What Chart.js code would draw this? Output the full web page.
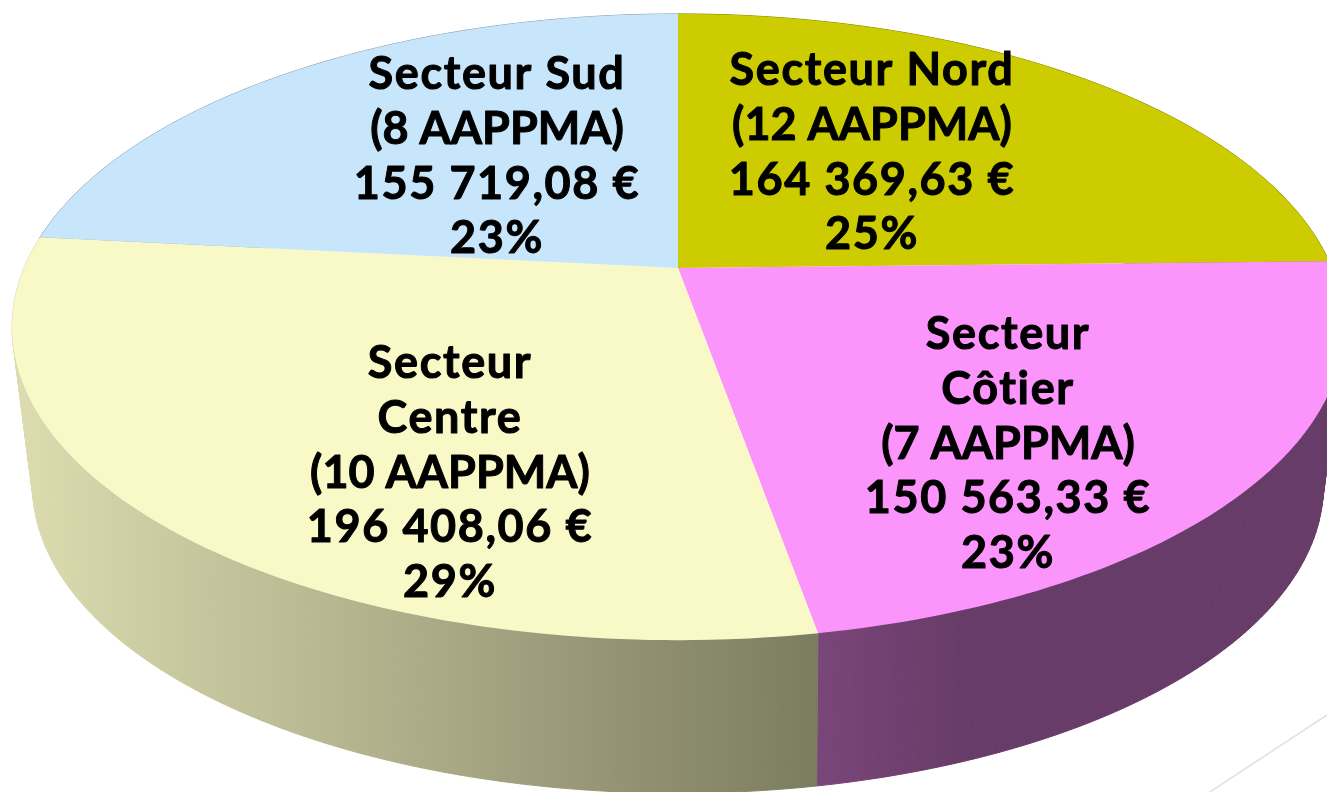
<!DOCTYPE html>
<html>
<head>
<meta charset="utf-8">
<title>Secteurs AAPPMA</title>
<script src="https://cdn.jsdelivr.net/npm/chart.js@4"></script>
<style>
  html, body { margin: 0; padding: 0; background: #fff; overflow: hidden; }
  canvas { display: block; }
</style>
</head>
<body>
<canvas id="myChart" width="1327" height="792"></canvas>
<script>
const categories = ["Secteur Nord", "Secteur Côtier", "Secteur Centre", "Secteur Sud"]
const amounts = [164369.63, 150563.33, 196408.06, 155719.08]
const topColors = ["#cccc00", "#fb94fb", "#f9f9c8", "#c8e6fb"]
const sideColors = [
  ["#8a8a00", "#8a8a00"],
  ["#7a467a", "#683c68"],
  ["#dcdcb0", "#7c7c60"],
  ["#8aa0b0", "#8aa0b0"]
]
const labelLines = [
  ["Secteur Nord", "(12 AAPPMA)", "164 369,63 €", "25%"],
  ["Secteur", "Côtier", "(7 AAPPMA)", "150 563,33 €", "23%"],
  ["Secteur", "Centre", "(10 AAPPMA)", "196 408,06 €", "29%"],
  ["Secteur Sud", "(8 AAPPMA)", "155 719,08 €", "23%"]
]

// where the text sits, and how the flat pie is tilted
const labelX = [872, 1008, 450, 497]
const labelY = [85, 349, 378, 89]
const lineGap = 54.8
const tilt = { cx: 678, cy: 268, a: 654, b: 302, k: 0.1885 }
const base = { cx: 678, cy: 421, a: 631, b: 294, k: 0.21 }

function project(angle, ring) {
  let u = Math.cos(angle)
  let v = Math.sin(angle)
  let w = 1 - ring.k * v
  return {
    x: ring.cx + ring.a * u / w,
    y: ring.cy + ring.b * v / w
  }
}

const pie3d = {
  id: "pie3d",
  beforeDatasetsDraw(chart) {
    let ctx = chart.ctx
    let arcs = chart.getDatasetMeta(0).data
    let step = Math.PI / 180

    // the rim first, the top face goes over it
    arcs.forEach(function(arc, i) {
      let grad = ctx.createLinearGradient(i == 1 ? 815 : 20, 0, i == 1 ? 960 : 815, 0)
      grad.addColorStop(0, sideColors[i][0])
      grad.addColorStop(1, sideColors[i][1])
      ctx.fillStyle = grad
      ctx.strokeStyle = grad
      ctx.lineWidth = 1
      for (let a = arc.startAngle; a < arc.endAngle; a += step) {
        let b = Math.min(a + step, arc.endAngle)
        let p1 = project(a, tilt)
        let p2 = project(b, tilt)
        let p3 = project(b, base)
        let p4 = project(a, base)
        ctx.beginPath()
        ctx.moveTo(p1.x, p1.y)
        ctx.lineTo(p2.x, p2.y)
        ctx.lineTo(p3.x, p3.y)
        ctx.lineTo(p4.x, p4.y)
        ctx.closePath()
        ctx.fill()
        ctx.stroke()
      }
    })

    arcs.forEach(function(arc, i) {
      ctx.fillStyle = topColors[i]
      ctx.beginPath()
      ctx.moveTo(tilt.cx, tilt.cy)
      for (let a = arc.startAngle; a < arc.endAngle; a += step) {
        let p = project(a, tilt)
        ctx.lineTo(p.x, p.y)
      }
      let last = project(arc.endAngle, tilt)
      ctx.lineTo(last.x, last.y)
      ctx.closePath()
      ctx.fill()
    })
    return false
  },
  afterDraw(chart) {
    let ctx = chart.ctx
    // faint stray line in the bottom right corner
    ctx.strokeStyle = "#e2e2e2"
    ctx.lineWidth = 1.5
    ctx.beginPath()
    ctx.moveTo(1327, 715)
    ctx.lineTo(1210, 792)
    ctx.stroke()

    ctx.fillStyle = "#000"
    ctx.strokeStyle = "#000"
    ctx.lineWidth = 1
    ctx.lineJoin = "round"
    ctx.font = "bold 45px Lato"
    ctx.textAlign = "center"
    ctx.textBaseline = "alphabetic"
    labelLines.forEach(function(lines, i) {
      lines.forEach(function(line, j) {
        // the AAPPMA lines run tighter than the others
        ctx.letterSpacing = line[0] == "(" ? "0px" : "1.6px"
        ctx.fillText(line, labelX[i], labelY[i] + j * lineGap)
        ctx.strokeText(line, labelX[i], labelY[i] + j * lineGap)
      })
    })
  }
}

new Chart(document.getElementById("myChart"), {
  type: "pie",
  data: {
    labels: categories,
    datasets: [{ data: amounts, backgroundColor: topColors, borderWidth: 0 }]
  },
  options: {
    responsive: false,
    animation: false,
    plugins: { legend: { display: false }, tooltip: { enabled: false } }
  },
  plugins: [pie3d]
})
</script>
</body>
</html>
